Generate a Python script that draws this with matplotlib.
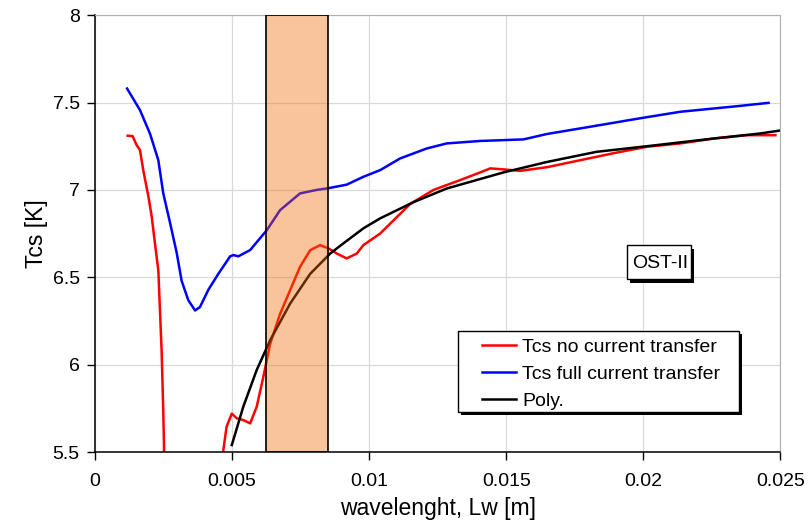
import matplotlib.pyplot as plt
from matplotlib.patches import Rectangle

plt.rcParams['font.family'] = ['Liberation Sans', 'DejaVu Sans']

# Tcs full current transfer (blue)
x_full = [0.00117, 0.00164, 0.00201, 0.00231, 0.00249, 0.00274, 0.00298, 0.00316,
          0.0034, 0.00365, 0.00383, 0.00414, 0.0045, 0.00493, 0.00505, 0.00523,
          0.00566, 0.00627, 0.00675, 0.00748, 0.00809, 0.00852, 0.00918, 0.00979,
          0.0104, 0.01113, 0.0121, 0.01283, 0.01405, 0.01563, 0.01649, 0.0182,
          0.01989, 0.02135, 0.02342, 0.02457]
y_full = [7.58, 7.457, 7.32, 7.17, 6.98, 6.81, 6.64, 6.48,
          6.37, 6.31, 6.33, 6.43, 6.52, 6.62, 6.627, 6.62,
          6.656, 6.77, 6.884, 6.98, 7.0, 7.01, 7.03, 7.075,
          7.113, 7.18, 7.237, 7.266, 7.28, 7.289, 7.32, 7.365,
          7.41, 7.447, 7.479, 7.498]

# Tcs no current transfer (red), first branch drops below 5.5
x_no1 = [0.00119, 0.00137, 0.00152, 0.00164, 0.00176, 0.00195, 0.00207, 0.00219,
         0.00231, 0.00237, 0.00243, 0.00249, 0.00252, 0.00256]
y_no1 = [7.31, 7.308, 7.256, 7.228, 7.113, 6.96, 6.846, 6.69,
         6.54, 6.31, 6.08, 5.74, 5.51, 5.3]
x_no2 = [0.00462, 0.00468, 0.0048, 0.00499, 0.00517, 0.00541, 0.00566, 0.0059,
         0.00614, 0.00639, 0.00675, 0.00712, 0.00748, 0.00785, 0.00821, 0.00852,
         0.00882, 0.00918, 0.00955, 0.00979, 0.0104, 0.0115, 0.01235, 0.01332,
         0.01405, 0.01442, 0.01478, 0.01551, 0.01649, 0.0177, 0.01892, 0.02014,
         0.02135, 0.02257, 0.02378, 0.02482]
y_no2 = [5.3, 5.51, 5.645, 5.72, 5.693, 5.683, 5.664, 5.76,
         5.93, 6.12, 6.29, 6.427, 6.56, 6.655, 6.684, 6.665,
         6.636, 6.608, 6.636, 6.684, 6.75, 6.92, 7.0, 7.056,
         7.1, 7.123, 7.119, 7.109, 7.13, 7.17, 7.21, 7.247,
         7.266, 7.294, 7.313, 7.313]

# Poly fit (black)
x_poly = [0.00499, 0.00541, 0.0059, 0.00639, 0.00712, 0.00785, 0.00858, 0.00906,
          0.00979, 0.0104, 0.01162, 0.01283, 0.0149, 0.01649, 0.0183, 0.02014,
          0.02257, 0.02427, 0.025]
y_poly = [5.54, 5.76, 5.97, 6.14, 6.35, 6.52, 6.636, 6.694,
          6.78, 6.837, 6.93, 7.008, 7.1, 7.16, 7.218, 7.25,
          7.294, 7.323, 7.34]

band = (0.00624, 0.0085)

fig = plt.figure(figsize=(8.12, 5.22), dpi=100)
ax = fig.add_axes([0.117, 0.134, 0.844, 0.837])

ax.plot(x_no1, y_no1, color='#ff0000', lw=1.8, label='Tcs no current transfer')
ax.plot(x_no2, y_no2, color='#ff0000', lw=1.8)
ax.plot(x_full, y_full, color='#0000ff', lw=1.8, label='Tcs full current transfer')
ax.plot(x_poly, y_poly, color='black', lw=1.8, label='Poly.')

ax.add_patch(Rectangle((band[0], 5.5), band[1] - band[0], 2.5,
                       facecolor=(0.95, 0.41, 0.02, 0.4), edgecolor='black',
                       lw=1.2, zorder=3))

ax.set_xlim(0, 0.025)
ax.set_ylim(5.5, 8)
ax.set_xticks([0, 0.005, 0.01, 0.015, 0.02, 0.025])
ax.set_xticklabels(['0', '0.005', '0.01', '0.015', '0.02', '0.025'])
ax.set_yticks([5.5, 6, 6.5, 7, 7.5, 8])
ax.set_yticklabels(['5.5', '6', '6.5', '7', '7.5', '8'])
ax.grid(True, color='#d9d9d9', lw=0.9)
ax.set_axisbelow(True)
ax.tick_params(direction='out', length=6, width=1, labelsize=14, pad=5)
ax.tick_params(axis='x', pad=9)
for s in ['top', 'right']:
    ax.spines[s].set_color('#b0b0b0')
for s in ['left', 'bottom']:
    ax.spines[s].set_linewidth(1.1)

ax.set_xlabel('wavelenght, Lw [m]', fontsize=16.5, labelpad=5)
ax.set_ylabel('Tcs [K]', fontsize=16.5, labelpad=3)

# legend frame with black drop shadow (drawn by hand, Excel style)
sh = 3 / 685
ax.add_patch(Rectangle((0.530 + sh, 0.0915 - 3 / 437), 0.409, 0.1855,
                       transform=ax.transAxes, facecolor='black', lw=0, zorder=5))
ax.add_patch(Rectangle((0.530, 0.0915), 0.409, 0.1855, transform=ax.transAxes,
                       facecolor='white', edgecolor='black', lw=1, zorder=5))
leg = ax.legend(loc='upper left', bbox_to_anchor=(0.565, 0.261), fontsize=14,
                frameon=False, borderpad=0, labelspacing=0.48,
                handlelength=1.75, handletextpad=0.3, borderaxespad=0)
leg.set_zorder(6)

# OST-II label box with black drop shadow
ax.add_patch(Rectangle((0.7766 + sh, 0.396 - 4 / 437), 0.0934, 0.078,
                       transform=ax.transAxes, facecolor='black', lw=0, zorder=5))
ax.add_patch(Rectangle((0.7766, 0.396), 0.0934, 0.078, transform=ax.transAxes,
                       facecolor='white', edgecolor='black', lw=1, zorder=5))
ax.text(0.0206, 6.58, 'OST-II', fontsize=14, color='black',
        ha='center', va='center', zorder=6)

fig.savefig('out.png', dpi=100)
